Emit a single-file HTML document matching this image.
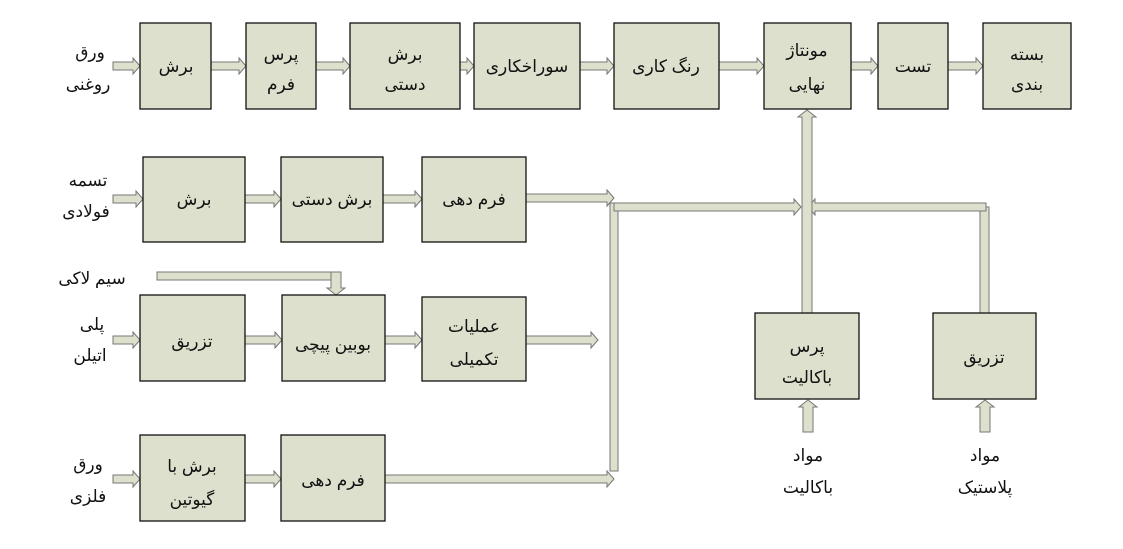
<!DOCTYPE html>
<html><head><meta charset="utf-8"><style>
html,body{margin:0;padding:0;background:#fff;}
svg{display:block;}
text{font-family:"Liberation Sans","DejaVu Sans",sans-serif;font-size:17px;fill:#111;text-anchor:middle;}
.b{fill:#dde0cc;stroke:#111;stroke-width:1.3;}
</style></head><body>
<svg id="s" width="1123" height="549" viewBox="0 0 1123 549" xmlns="http://www.w3.org/2000/svg">
<g id="arr"></g>
<rect class="b" x="140" y="23" width="71" height="86"/><text x="176" y="72">برش</text>
<rect class="b" x="246" y="23" width="70" height="86"/><text x="281" y="60">پرس</text><text x="281" y="90">فرم</text>
<rect class="b" x="350" y="23" width="110" height="86"/><text x="405" y="60">برش</text><text x="405" y="90">دستی</text>
<rect class="b" x="474" y="23" width="106" height="86"/><text x="527" y="72">سوراخکاری</text>
<rect class="b" x="614" y="23" width="105" height="86"/><text x="666" y="72">رنگ کاری</text>
<rect class="b" x="764" y="23" width="87" height="86"/><text x="807" y="56">مونتاژ</text><text x="807" y="90">نهایی</text>
<rect class="b" x="878" y="23" width="70" height="86"/><text x="913" y="72">تست</text>
<rect class="b" x="983" y="23" width="88" height="86"/><text x="1027" y="60">بسته</text><text x="1027" y="90">بندی</text>
<text x="90" y="58">ورق</text><text x="88" y="90">روغنی</text>
<rect class="b" x="143" y="157" width="102" height="85"/><text x="194" y="205">برش</text>
<rect class="b" x="281" y="157" width="102" height="85"/><text x="332" y="205">برش دستی</text>
<rect class="b" x="422" y="157" width="104" height="85"/><text x="474" y="205">فرم دهی</text>
<text x="88" y="186">تسمه</text><text x="86" y="217">فولادی</text>
<rect class="b" x="140" y="295" width="105" height="86"/><text x="192" y="347">تزریق</text>
<rect class="b" x="282" y="295" width="103" height="86"/><text x="333" y="350">بوبین پیچی</text>
<rect class="b" x="422" y="297" width="104" height="84"/><text x="474" y="332">عملیات</text><text x="474" y="365">تکمیلی</text>
<text x="92" y="284">سیم لاکی</text>
<text x="92" y="330">پلی</text><text x="90" y="361">اتیلن</text>
<rect class="b" x="140" y="435" width="105" height="86"/><text x="192" y="472">برش با</text><text x="192" y="505">گیوتین</text>
<rect class="b" x="281" y="435" width="104" height="86"/><text x="333" y="486">فرم دهی</text>
<text x="88" y="470">ورق</text><text x="88" y="502">فلزی</text>
<rect class="b" x="755" y="313" width="104" height="86"/><text x="807" y="352">پرس</text><text x="807" y="383">باکالیت</text>
<rect class="b" x="933" y="313" width="103" height="86"/><text x="984" y="363">تزریق</text>
<text x="808" y="461">مواد</text><text x="808" y="493">باکالیت</text>
<text x="985" y="461">مواد</text><text x="985" y="493">پلاستیک</text>
</svg>
<script>
var g=document.getElementById('arr'),s='';
function P(pts){s+='<polygon points="'+pts+'" fill="#dde0cc" stroke="#777" stroke-width="1"/>';}
function R(x1,x2,y){P(x1+','+(y-4)+' '+(x2-7)+','+(y-4)+' '+(x2-7)+','+(y-8)+' '+x2+','+y+' '+(x2-7)+','+(y+8)+' '+(x2-7)+','+(y+4)+' '+x1+','+(y+4));}
function L(x1,x2,y){P(x1+','+(y-4)+' '+(x2+7)+','+(y-4)+' '+(x2+7)+','+(y-8)+' '+x2+','+y+' '+(x2+7)+','+(y+8)+' '+(x2+7)+','+(y+4)+' '+x1+','+(y+4));}
function U(x,y1,y2){P((x-5)+','+y1+' '+(x-5)+','+(y2+7)+' '+(x-9)+','+(y2+7)+' '+x+','+y2+' '+(x+9)+','+(y2+7)+' '+(x+5)+','+(y2+7)+' '+(x+5)+','+y1);}
function D(x,y1,y2){P((x-5)+','+y1+' '+(x-5)+','+(y2-7)+' '+(x-9)+','+(y2-7)+' '+x+','+y2+' '+(x+9)+','+(y2-7)+' '+(x+5)+','+(y2-7)+' '+(x+5)+','+y1);}
[[113,140],[211,246],[316,350],[460,474],[580,614],[719,764],[851,878],[948,983]].forEach(a=>R(a[0],a[1],66));
R(113,143,199);R(245,281,199);R(383,422,199);R(526,614,198);
R(113,140,340);R(245,282,340);R(385,422,340);R(526,598,340);
R(113,140,479);R(245,281,479);R(385,614,479);
s+='<rect x="610" y="203" width="8" height="268" fill="#dde0cc" stroke="#777"/>';
s+='<rect x="980" y="207" width="9" height="106" fill="#dde0cc" stroke="#777"/>';
R(614,801,207);L(986,808,207);
U(807,313,110);
U(808,432,400);U(985,432,400);
s+='<rect x="157" y="272" width="183" height="8" fill="#dde0cc" stroke="#777"/>';
D(336,272,295);
g.innerHTML=s;
</script>
</body></html>
